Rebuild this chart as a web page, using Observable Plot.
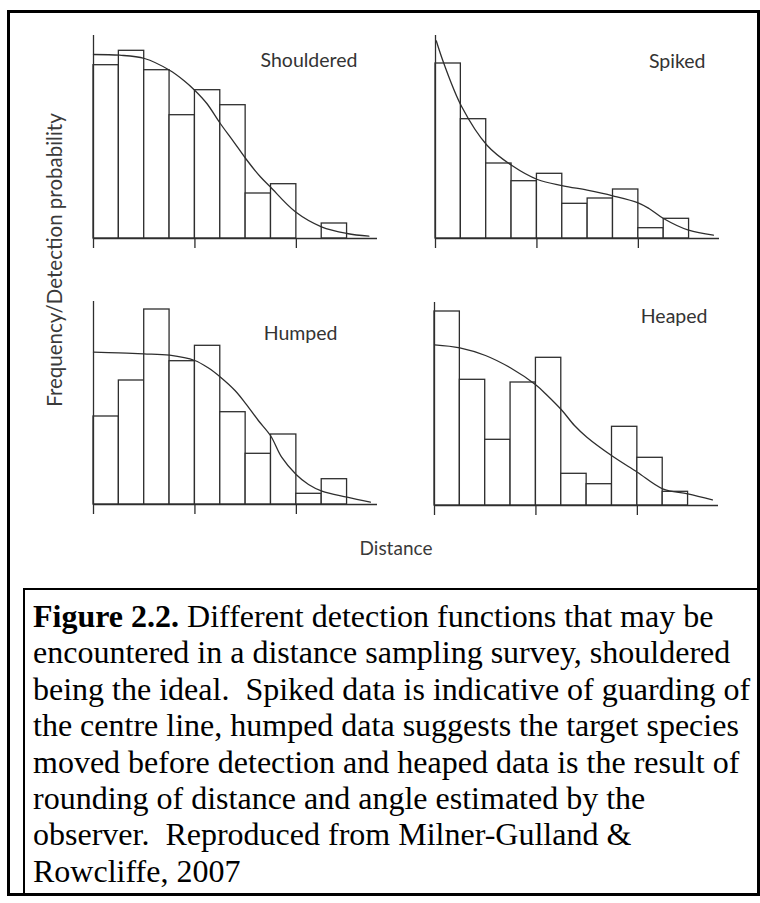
<!DOCTYPE html>
<html>
<head>
<meta charset="utf-8">
<script src="https://cdn.jsdelivr.net/npm/d3@7"></script>
<script src="https://cdn.jsdelivr.net/npm/@observablehq/plot@0.6"></script>
<style>
  html, body { margin: 0; padding: 0; background: #fff; }
  body { width: 760px; height: 903px; position: relative; overflow: hidden; }
  .frame { position: absolute; left: 7px; top: 10px; width: 753px; height: 886px; border: 3px solid #000; box-sizing: border-box; }
  .panel { position: absolute; }
  .ylab { position: absolute; left: 54px; top: 260px; transform: translate(-50%, -50%) rotate(-90deg); font-family: Lato, "Open Sans", sans-serif; font-size: 20.5px; color: #3a3a3a; white-space: nowrap; }
  .xlab { position: absolute; left: 396px; top: 547px; transform: translate(-50%, -50%); font-family: Lato, "Open Sans", sans-serif; font-size: 19px; color: #3a3a3a; white-space: nowrap; }
  .caption { position: absolute; left: 23px; top: 588px; width: 737px; height: 308px; border: 2px solid #000; box-sizing: border-box; padding: 8px 0 0 8px; font-family: "Liberation Serif", "Times New Roman", serif; font-size: 32px; line-height: 36.4px; color: #000; white-space: nowrap; }
</style>
</head>
<body>
<div class="frame"></div>
<div id="chart"></div>
<div class="ylab">Frequency/Detection probability</div>
<div class="xlab">Distance</div>
<div class="caption"><b>Figure 2.2.</b> Different detection functions that may be<br>encountered in a distance sampling survey, shouldered<br>being the ideal.&nbsp; Spiked data is indicative of guarding of<br>the centre line, humped data suggests the target species<br>moved before detection and heaped data is the result of<br>rounding of distance and angle estimated by the<br>observer.&nbsp; Reproduced from Milner-Gulland &amp;<br>Rowcliffe, 2007</div>
<script>
// ---- data ----
const binEdges = [0, 1, 2, 3, 4, 5, 6, 7, 8, 9, 10];
const xTicks = [0, 4, 8];
const xMax = 11.2;
const yMax = 203;

const shoulderedFreq = [173.3, 187.7, 168.3, 123.3, 148.3, 133.3, 45, 54.3, 0, 15];
const shoulderedCurveX = [0, 1.03, 2.01, 3.0, 3.55, 3.99, 4.47, 5.0, 5.53, 6.0, 6.58, 6.97, 7.96, 8.99, 10.0, 10.86];
const shoulderedCurveY = [184, 183.3, 180, 168.3, 158.3, 148.3, 135, 115, 96.7, 80, 61.7, 51.7, 26.7, 11.7, 5, 2.3];

const spikedFreq = [175, 119.3, 75, 57.3, 64.7, 34.7, 40, 49, 10.3, 19.7];
const spikedCurveX = [0.03, 0.33, 1.035, 2.03, 3.03, 4.02, 5.03, 5.98, 6.99, 7.99, 8.42, 8.99, 9.98, 10.96];
const spikedCurveY = [197.7, 175, 131.7, 93.3, 72.7, 59, 52.7, 48.3, 42.7, 35.7, 30, 20, 8.3, 3.3];

const humpedFreq = [88, 124, 195, 143.3, 158.7, 92.3, 50.7, 70, 10.7, 25.3];
const humpedCurveX = [0, 0.99, 1.98, 3.0, 3.99, 4.52, 5.01, 5.58, 6.01, 6.5, 6.99, 7.42, 7.99, 8.48, 9.01, 10.0, 10.92];
const humpedCurveY = [152.3, 151.7, 150.7, 149.3, 144, 136.7, 127.3, 114, 100.7, 84, 68.5, 47.3, 30, 20, 13.3, 7.3, 2.3];

const heapedFreq = [194, 125.7, 65.7, 123, 147.7, 31.7, 21.3, 78.7, 47.7, 13.7];
const heapedCurveX = [0, 1.0, 2.01, 2.99, 3.99, 4.45, 5.03, 5.52, 6.01, 6.98, 8.0, 9.0, 9.99, 10.96];
const heapedCurveY = [160.7, 157.7, 150, 137.7, 120.7, 110, 95, 80, 68.3, 50, 33.3, 16.7, 11.7, 5.7];

const titles = ["Shouldered", "Spiked", "Humped", "Heaped"];

// ---- layout ----
const ink = "#2e2e2e";
const mL = 20, mR = 12, mT = 10, mB = 20;
const plotW = 284, plotH = 203;

function panel(freq, cx, cy, title, left, top, tdx, tdy) {
  const bars = freq.map((v, i) => ({x1: binEdges[i], x2: binEdges[i + 1], y: v}));
  const curve = cx.map((x, i) => ({x, y: cy[i]}));
  const svg = Plot.plot({
    width: mL + plotW + mR,
    height: mT + plotH + mB,
    marginLeft: mL, marginRight: mR, marginTop: mT, marginBottom: mB,
    x: {domain: [0, xMax], axis: null},
    y: {domain: [0, yMax], axis: null},
    style: {background: "transparent", overflow: "visible"},
    marks: [
      Plot.rectY(bars, {x1: "x1", x2: "x2", y: "y", fill: "white", stroke: ink, strokeWidth: 1.3}),
      Plot.line(curve, {x: "x", y: "y", curve: "catmull-rom", stroke: ink, strokeWidth: 1.3}),
      Plot.ruleY([0], {x1: 0, x2: xMax, stroke: ink, strokeWidth: 1.3}),
      Plot.ruleX([0], {y1: 0, y2: yMax, stroke: ink, strokeWidth: 1.3}),
      Plot.axisX({ticks: xTicks, tickSize: 10, fill: "none", stroke: ink, strokeWidth: 1.3, label: null}),
      Plot.text([title], {frameAnchor: "top-right", dx: tdx, dy: tdy, lineAnchor: "bottom", textAnchor: "end",
        fontFamily: "Lato, 'Open Sans', sans-serif", fontSize: 19.5, fill: "#333"})
    ]
  });
  const div = document.createElement("div");
  div.className = "panel";
  div.style.left = left + "px";
  div.style.top = top + "px";
  div.appendChild(svg);
  document.getElementById("chart").appendChild(div);
}

panel(shoulderedFreq, shoulderedCurveX, shoulderedCurveY, titles[0], 93.3 - mL, 238 - plotH - mT, -20, 31.7);
panel(spikedFreq, spikedCurveX, spikedCurveY, titles[1], 435 - mL, 238.3 - plotH - mT, -14, 32.7);
panel(humpedFreq, humpedCurveX, humpedCurveY, titles[2], 92.7 - mL, 504 - plotH - mT, -40, 38);
panel(heapedFreq, heapedCurveX, heapedCurveY, titles[3], 434.3 - mL, 505 - plotH - mT, -11, 20);
</script>
</body>
</html>
